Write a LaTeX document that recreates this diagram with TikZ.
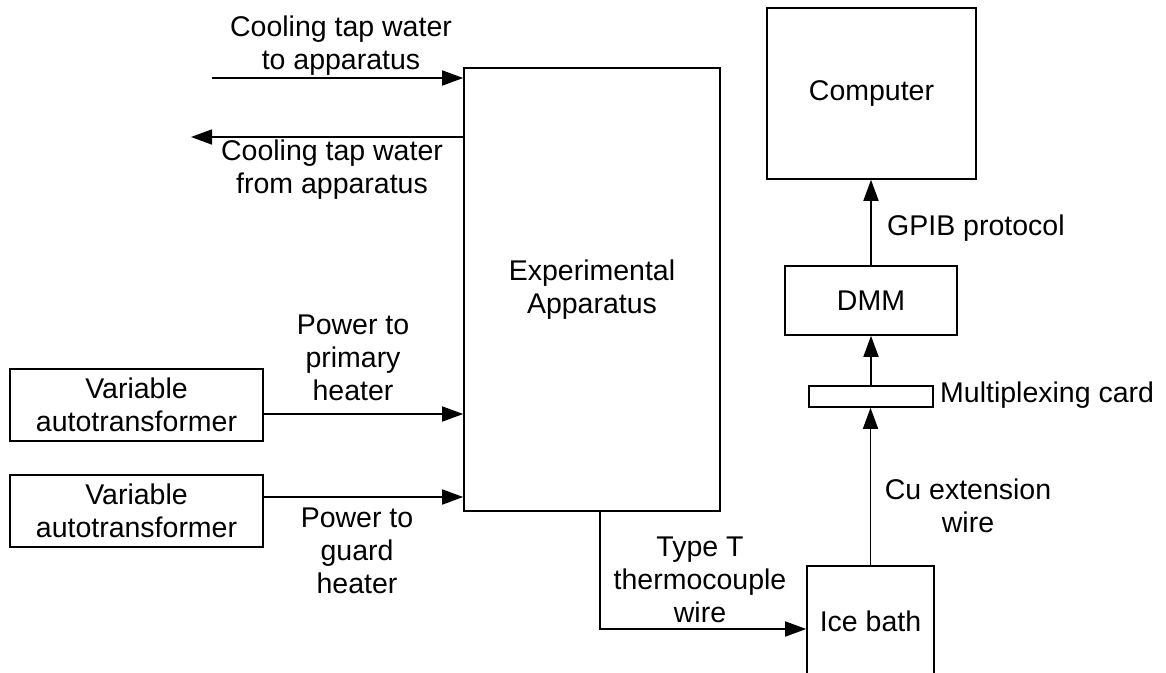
\documentclass[tikz,border=0pt]{standalone}
\usepackage{fontspec}
\setmainfont{Liberation Sans}
\usepackage{tikz}
\usetikzlibrary{arrows.meta, positioning, calc}
\definecolor{LineBlack}{RGB}{0, 0, 0}
\tikzset{
  blk/.style={rectangle, draw=LineBlack, line width=1.6pt, fill=white,
    align=center, inner sep=0pt, font=\fontsize{28.5}{33}\selectfont},
  lbl/.style={align=center, inner sep=2pt, font=\fontsize{28.5}{33}\selectfont},
  arr/.style={-{Triangle[length=21pt, width=15pt]}, line width=1.6pt, color=LineBlack},
}

\begin{document}
\begin{tikzpicture}[x=1pt, y=-1pt]
  \useasboundingbox (0,0) rectangle (1166,672);
  % blocks
  \node[blk, minimum width=256pt, minimum height=443pt] (app) at (592,289.5)
    {Experimental\\Apparatus};
  \node[blk, minimum width=209pt, minimum height=171pt] (comp) at (871.5,93.5)
    {Computer};
  \node[blk, minimum width=172pt, minimum height=69pt] (dmm) at (871,300.5)
    {DMM};
  \node[blk, minimum width=124pt, minimum height=21pt] (mux) at (871,396.5) {};
  \node[blk, minimum width=127pt, minimum height=110pt] (ice) at (870.5,621)
    {Ice bath};
  \node[blk, minimum width=253pt, minimum height=72pt] (vat1) at (136.5,405)
    {Variable\\autotransformer};
  \node[blk, minimum width=253pt, minimum height=72pt] (vat2) at (136.5,511)
    {Variable\\autotransformer};
  % cooling water
  \coordinate (tapin) at (212,78);
  \coordinate (tapout) at (191,137);
  \draw[arr] (tapin) -- (tapin -| app.west);
  \draw[arr] (tapout -| app.west) -- (tapout);
  % heaters
  \draw[arr] ([yshift=-9pt]vat1.east) -- ([yshift=-9pt]vat1.east -| app.west);
  \draw[arr] ([yshift=14pt]vat2.east) -- ([yshift=14pt]vat2.east -| app.west);
  % measurement chain
  \draw[arr] ([xshift=8pt]app.south) |- ([yshift=-8pt]ice.west);
  \draw[arr] (ice.north) -- (ice.north |- mux.south);
  \draw[arr] (mux.north) -- (mux.north |- dmm.south);
  \draw[arr] (dmm.north) -- (dmm.north |- comp.south);
  % labels
  \node[lbl] (lTapIn) at (341,46) {Cooling tap water\\to apparatus};
  \node[lbl] (lTapOut) at (332,170) {Cooling tap water\\from apparatus};
  \node[lbl] (lPrim) at (353,358) {Power to\\primary\\heater};
  \node[lbl] (lGuard) at (357,551) {Power to\\guard\\heater};
  \node[lbl] (lTC) at (700,580) {Type T\\thermocouple\\wire};
  \node[lbl] (lCu) at (968,506) {Cu extension\\wire};
  \node[lbl, anchor=west] (lMux) at (938,395) {Multiplexing card};
  \node[lbl, anchor=west] (lGpib) at (885,228) {GPIB protocol};
\end{tikzpicture}
\end{document}
